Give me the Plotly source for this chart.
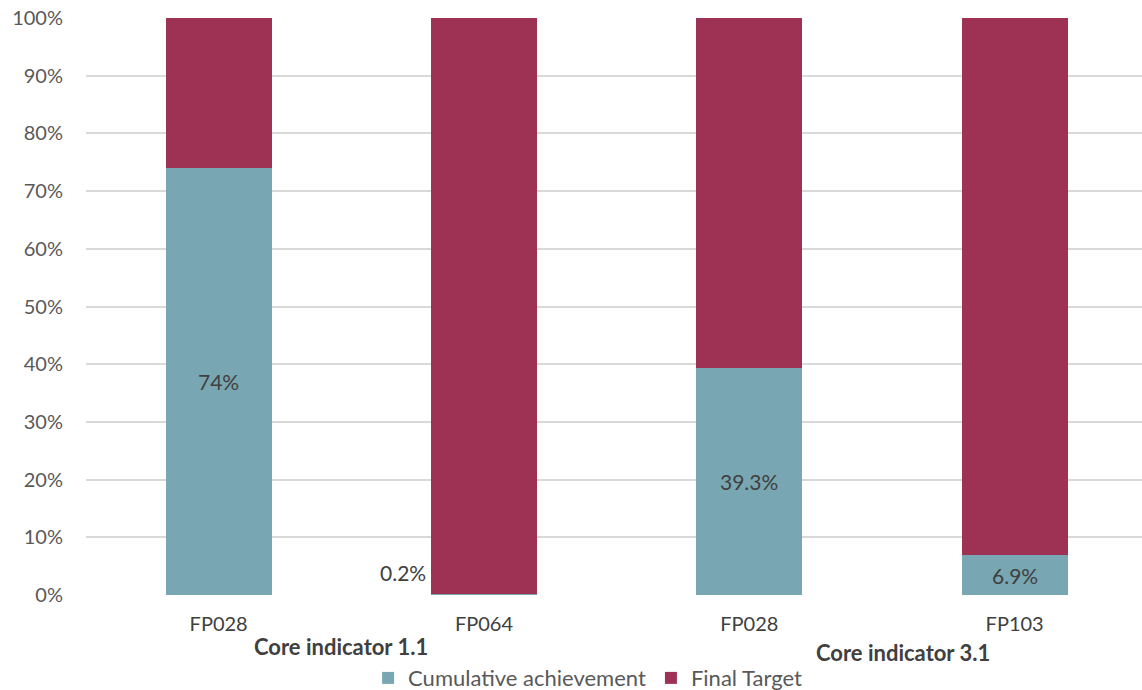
import plotly.graph_objects as go

categories = ["FP028", "FP064", "FP028", "FP103"]
groups = ["Core indicator 1.1", "Core indicator 3.1"]
cumulative = [74.0, 0.2, 39.3, 6.9]
final_target = [26.0, 99.8, 60.7, 93.1]
labels = ["74%", "0.2%", "39.3%", "6.9%"]

TEAL = "#78A6B2"
MAROON = "#9E3254"
FONT = "Lato"
x = list(range(len(categories)))

fig = go.Figure()
fig.add_trace(go.Bar(
    x=x, y=cumulative, name="Cumulative achievement",
    marker=dict(color=TEAL, line=dict(width=0)), width=0.4,
))
fig.add_trace(go.Bar(
    x=x, y=final_target, name="Final Target",
    marker=dict(color=MAROON, line=dict(width=0)), width=0.4,
))

annotations = []
for i, (v, lab) in enumerate(zip(cumulative, labels)):
    if v < 2:
        annotations.append(dict(x=i, y=0, xref="x", yref="y", text=lab, showarrow=False,
                                xanchor="right", yanchor="bottom", xshift=-56, yshift=8,
                                font=dict(family=FONT, size=21, color="#404040")))
    else:
        annotations.append(dict(x=i, y=v / 2, xref="x", yref="y", text=lab, showarrow=False,
                                font=dict(family=FONT, size=21, color="#404040")))

annotations.append(dict(x=0.46, y=-0.09, xref="x", yref="paper", text="<b>" + groups[0] + "</b>",
                        showarrow=False, yanchor="middle", font=dict(family=FONT, size=22, color="#404040")))
annotations.append(dict(x=2.58, y=-0.1, xref="x", yref="paper", text="<b>" + groups[1] + "</b>",
                        showarrow=False, yanchor="middle", font=dict(family=FONT, size=22, color="#404040")))

fig.update_layout(
    barmode="stack",
    width=1142, height=690,
    margin=dict(l=86, r=0, t=18, b=95, autoexpand=False),
    paper_bgcolor="white", plot_bgcolor="white",
    font=dict(family=FONT, size=19, color="#595959"),
    xaxis=dict(range=[-0.5, 3.48], tickvals=x, ticktext=categories, showgrid=False,
               zeroline=False, showline=False, ticks="", ticklabelstandoff=15,
               automargin=False, tickfont=dict(size=20, color="#404040")),
    yaxis=dict(range=[0, 100], tickvals=list(range(0, 101, 10)),
               ticktext=[f"{v}%" for v in range(0, 101, 10)],
               showgrid=True, gridcolor="#D9D9D9", gridwidth=1.5, zeroline=False,
               showline=False, ticks="", ticklabelstandoff=22, automargin=False,
               tickfont=dict(size=20, color="#595959")),
    legend=dict(orientation="h", x=0.475, xanchor="center", y=-0.144, yanchor="middle",
                font=dict(family=FONT, size=22, color="#595959"), itemwidth=30,
                traceorder="normal"),
    annotations=annotations,
    showlegend=True,
)
fig.write_html("out.html", post_script="document.body.style.margin='0';",
               config={"displayModeBar": False})
